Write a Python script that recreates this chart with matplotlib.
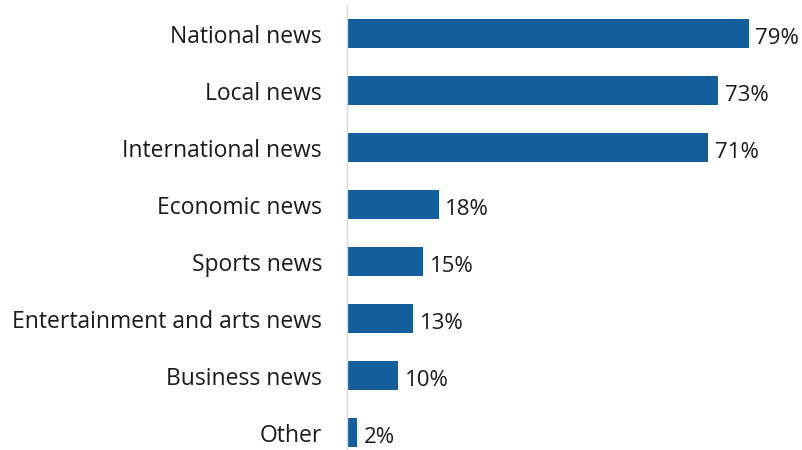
import matplotlib.pyplot as plt

categories = ["National news", "Local news", "International news", "Economic news",
              "Sports news", "Entertainment and arts news", "Business news", "Other"]
values = [79, 73, 71, 18, 15, 13, 10, 2]

plt.rcParams['font.family'] = ['Open Sans', 'DejaVu Sans']

fig = plt.figure(figsize=(8.02, 4.5), dpi=100)
ax = fig.add_axes([347 / 802, 0, 455 / 802, 445 / 450])

pos = range(len(categories))
ax.barh(pos, values, height=0.5, color='#135e9b')
for y, v in zip(pos, values):
    ax.text(v + 1.3, y + 0.04, f"{v}%", va='center_baseline', ha='left',
            fontsize=16, color='#1a1a1a')

ax.set_xlim(0, 89.5)
ax.set_ylim(7.307, -0.5)
ax.set_yticks(list(pos))
ax.set_yticklabels(categories, fontsize=16.5, color='#1a1a1a')
ax.tick_params(axis='y', length=0, pad=18)
ax.set_xticks([])

for side in ['top', 'right', 'bottom']:
    ax.spines[side].set_visible(False)
ax.spines['left'].set_color('#d9d9d9')
ax.spines['left'].set_linewidth(1)

fig.savefig('out.png', dpi=100)
